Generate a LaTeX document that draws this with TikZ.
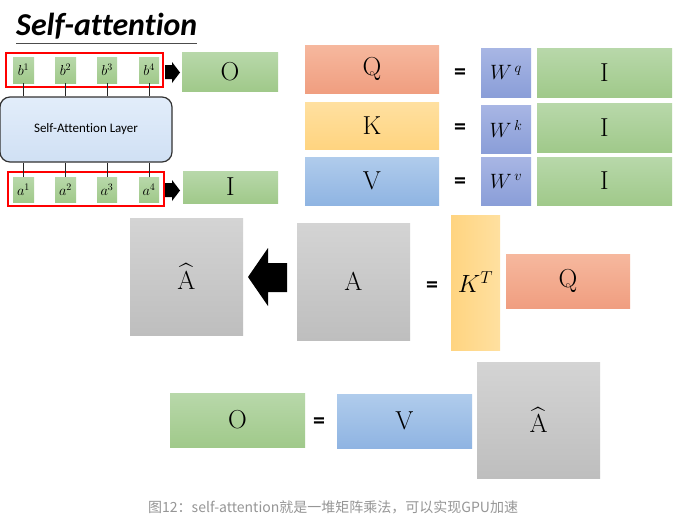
\documentclass[tikz,border=0pt]{standalone}
\usepackage{fontspec}
\usepackage{amsmath}
\newfontfamily\calibri[Ligatures=NoCommon]{Carlito}
\newfontfamily\cjk{Noto Sans CJK SC}
\definecolor{grT}{RGB}{184,216,170}
\definecolor{grB}{RGB}{160,201,138}
\definecolor{qT}{RGB}{246,184,158}
\definecolor{qB}{RGB}{240,158,128}
\definecolor{kT}{RGB}{255,224,160}
\definecolor{kB}{RGB}{255,212,128}
\definecolor{vT}{RGB}{176,204,236}
\definecolor{vB}{RGB}{143,180,226}
\definecolor{wT}{RGB}{168,182,228}
\definecolor{wB}{RGB}{138,158,216}
\definecolor{gyT}{RGB}{212,212,212}
\definecolor{gyB}{RGB}{190,190,190}
\definecolor{layT}{RGB}{226,237,250}
\definecolor{layB}{RGB}{208,224,244}
\definecolor{capgray}{RGB}{150,150,150}
\begin{document}
\begin{tikzpicture}[x=1pt,y=-1pt,
  span/.style n args={4}{minimum width={#3pt-#1pt}, minimum height={#4pt-#2pt},
     at={({(#1+#3)/2},{(#2+#4)/2})}},
  mbox/.style={inner sep=0pt, outer sep=0pt, anchor=center, font=\fontsize{26}{30}\selectfont},
  greenbox/.style={mbox, top color=grT, bottom color=grB},
  qbox/.style={mbox, top color=qT, bottom color=qB},
  kbox/.style={mbox, top color=kT, bottom color=kB},
  vbox/.style={mbox, top color=vT, bottom color=vB},
  wbox/.style={mbox, top color=wT, bottom color=wB, font=\fontsize{21}{24}\selectfont},
  graybox/.style={mbox, top color=gyT, bottom color=gyB},
  ktbox/.style={mbox, left color=kB, right color=kT, font=\fontsize{23}{26}\selectfont},
  tok/.style={mbox, top color=grT, bottom color=grB, font=\fontsize{14}{16}\selectfont},
  redframe/.style={draw=red, line width=2.8pt, inner sep=0pt, anchor=center},
  eqsign/.style={font=\calibri\bfseries\fontsize{24}{28}\selectfont, inner sep=0pt},
  blockarrow/.style={fill=black},
  link/.style={draw=black!85, line width=1pt}
]
\useasboundingbox (0,0) rectangle (695,530);
\fill[white] (0,0) rectangle (695,530);

% title
\node[anchor=south west, inner sep=0pt] (title) at (16,39)
  {\resizebox{181pt}{!}{\calibri\bfseries\itshape Self-attention}};
\draw[line width=1.4pt, black!70] (16,43.5) -- (197,43.5);

% output tokens
\node[tok, span={13}{57}{34}{83}] (b1) {$b^1$};
\node[tok, span={55}{57}{76}{83}] (b2) {$b^2$};
\node[tok, span={97}{57}{117}{83}] (b3) {$b^3$};
\node[tok, span={139}{57}{159}{83}] (b4) {$b^4$};
\node[redframe, span={6}{53}{163}{87}] (rtop) {};

% layer
\node[draw=black!80, line width=1.2pt, rounded corners=10pt, top color=layT, bottom color=layB,
      span={0}{97}{172}{162}, inner sep=0pt, font=\calibri\fontsize{13}{15}\selectfont] (layer) {Self-Attention Layer};

% input tokens
\node[tok, span={13}{177}{34}{202}] (a1) {$a^1$};
\node[tok, span={55}{177}{76}{202}] (a2) {$a^2$};
\node[tok, span={97}{177}{117}{202}] (a3) {$a^3$};
\node[tok, span={139}{177}{159}{202}] (a4) {$a^4$};
\node[redframe, span={8}{172}{164}{206}] (rbot) {};

\foreach \i in {1,2,3,4} {
  \draw[link] (b\i.south) -- (b\i.south |- layer.north);
  \draw[link] (a\i.north) -- (a\i.north |- layer.south);
}

% O and I
\node[greenbox, span={182}{52}{278}{91}] (O1) {O};
\node[greenbox, span={183}{171}{278}{203}] (I0) {I};

% small block arrows
\fill[blockarrow] (165,65) -- (172,65) -- (172,62) -- (180,72.5) -- (172,83) -- (172,79) -- (165,79) -- cycle;
\fill[blockarrow] (165,183) -- (172,183) -- (172,180) -- (180,190.5) -- (172,201) -- (172,197) -- (165,197) -- cycle;

% Q K V rows
\node[qbox, span={305}{45}{439}{93}] (Q) {Q};
\node[kbox, span={305}{102}{439}{149}] (K) {K};
\node[vbox, span={305}{157}{439}{205}] (V) {V};
\node[eqsign] (e1) at (460,74) {=};
\node[eqsign] (e2) at (460,129) {=};
\node[eqsign] (e3) at (460,183) {=};
\node[wbox, span={481}{48}{531}{97}] (Wq) {$W^{\,q}$};
\node[wbox, span={481}{105}{531}{153}] (Wk) {$W^{\,k}$};
\node[wbox, span={481}{157}{531}{205}] (Wv) {$W^{\,v}$};
\node[greenbox, span={537}{48}{672}{97}] (I1) {I};
\node[greenbox, span={537}{103}{672}{152}] (I2) {I};
\node[greenbox, span={537}{157}{672}{205}] (I3) {I};

% A row
\node[graybox, span={130}{218}{243}{335}] (Ahat) {$\widehat{\mathrm{A}}$};
\node[graybox, span={297}{223}{410}{340}] (A) {A};
\fill[blockarrow] (287,263) -- (268,263) -- (268,248) -- (248,277) -- (268,306) -- (268,292) -- (287,292) -- cycle;
\node[eqsign] (e4) at (432,287) {=};
\node[ktbox, span={451}{215}{500}{350}] (KT) {$K^T$};
\node[qbox, span={506}{254}{630}{308}] (Q2) {Q};

% O row
\node[greenbox, span={170}{393}{305}{447}] (O2) {O};
\node[eqsign] (e5) at (319,423) {=};
\node[vbox, span={337}{394}{472}{448}] (V2) {V};
\node[graybox, span={477}{362}{600}{478}] (Ahat2) {$\widehat{\mathrm{A}}$};

% caption
\node[anchor=west, inner sep=0pt, text=capgray, font=\cjk\fontsize{14}{16}\selectfont] (cap) at (148,507)
  {图12：self-attention就是一堆矩阵乘法，可以实现GPU加速};
\end{tikzpicture}
\end{document}
